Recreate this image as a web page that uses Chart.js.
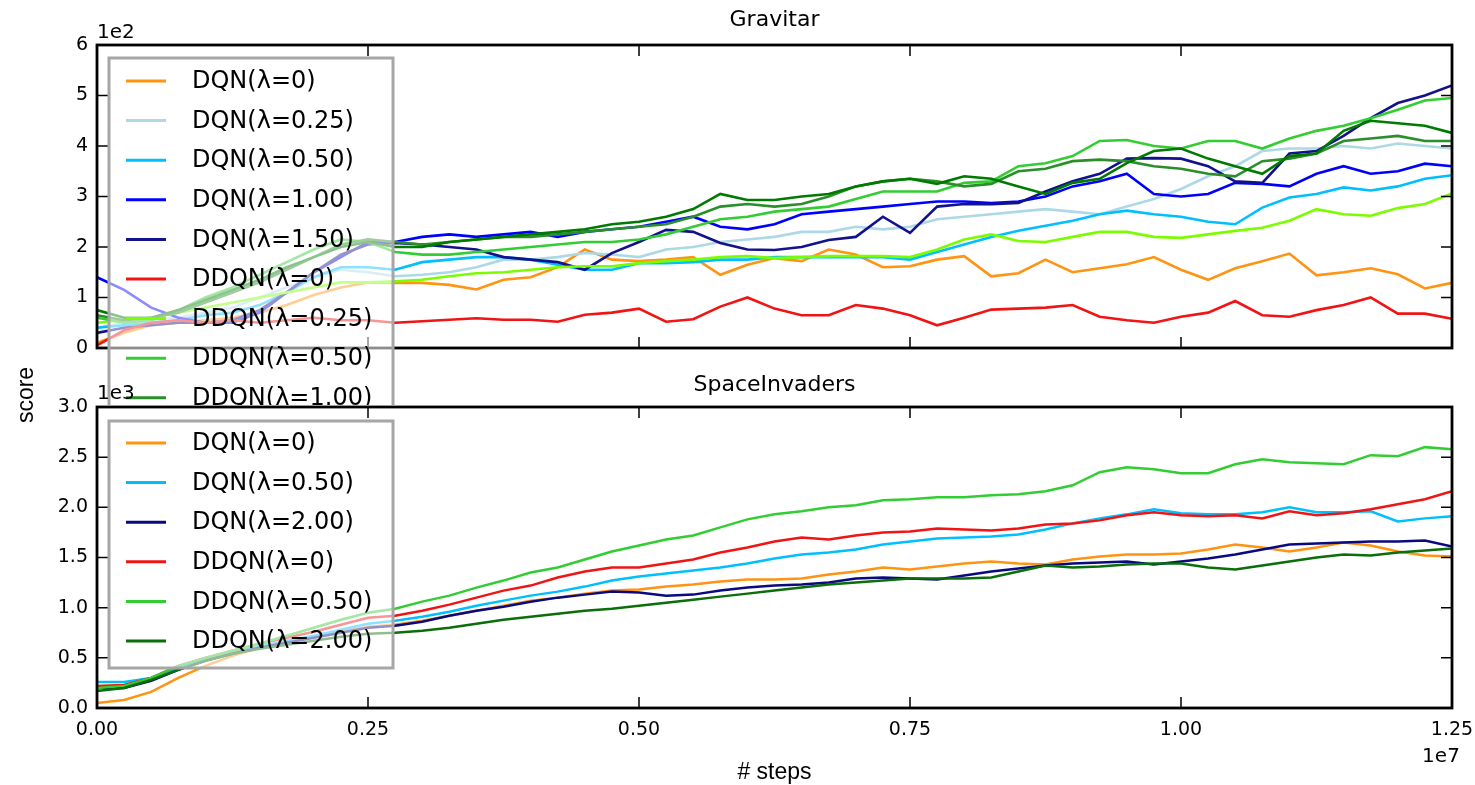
<!DOCTYPE html>
<html><head><meta charset="utf-8">
<script src="https://cdn.jsdelivr.net/npm/chart.js@4.4.0/dist/chart.umd.min.js"></script>
<style>
html,body{margin:0;padding:0;background:#fff;}
#wrap{position:relative;width:1475px;height:785px;overflow:hidden;}
canvas{position:absolute;left:0;top:0;}
</style></head><body>
<div id="wrap"><canvas id="cTop" width="1475" height="785"></canvas><canvas id="cBot" width="1475" height="785"></canvas></div>
<script>
// x positions in millions of steps
const stepsM = [0,0.25,0.5,0.75,1,1.25,1.5,1.75,2,2.25,2.5,2.75,3,3.25,3.5,3.75,4,4.25,4.5,4.75,5,5.25,5.5,5.75,6,6.25,6.5,6.75,7,7.25,7.5,7.75,8,8.25,8.5,8.75,9,9.25,9.5,9.75,10,10.25,10.5,10.75,11,11.25,11.5,11.75,12,12.25,12.5];
const xTickLabels = ['0.00','0.25','0.50','0.75','1.00','1.25'];

// Gravitar scores (units of 1e2)
const gravitarLabels = ['DQN(\u03bb=0)','DQN(\u03bb=0.25)','DQN(\u03bb=0.50)','DQN(\u03bb=1.00)','DQN(\u03bb=1.50)','DDQN(\u03bb=0)','DDQN(\u03bb=0.25)','DDQN(\u03bb=0.50)','DDQN(\u03bb=1.00)','DDQN(\u03bb=1.50)'];
const gravitarColors = ['#ff9312','#add8e6','#00bfff','#0000ff','#12128c','#f01414','#7cfc00','#32cd32','#2a8f2a','#007a00'];
const gDQN0 = [0.1,0.3,0.45,0.5,0.55,0.6,0.7,0.85,1.05,1.2,1.3, 1.29,1.29,1.25,1.16,1.35,1.4,1.6,1.95,1.75,1.72, 1.75,1.8,1.45,1.65,1.78,1.72,1.95,1.85,1.6,1.62, 1.75,1.82,1.42,1.48,1.75,1.5,1.58,1.66,1.8,1.55, 1.35,1.58,1.72,1.87,1.44,1.5,1.58,1.46,1.18,1.29];
const gDQN025 = [0.4,0.5,0.55,0.6,0.7,0.8,1.0,1.2,1.4,1.55,1.5, 1.42,1.45,1.5,1.6,1.75,1.75,1.8,1.88,1.85,1.8, 1.95,2.0,2.1,2.15,2.2,2.3,2.3,2.4,2.35,2.4, 2.55,2.6,2.65,2.7,2.75,2.7,2.65,2.8,2.95,3.15, 3.4,3.6,3.9,3.95,3.95,4.0,3.95,4.05,4.0,3.95];
const gDQN050 = [0.4,0.45,0.5,0.55,0.65,0.7,0.85,1.1,1.4,1.6,1.6, 1.55,1.7,1.75,1.8,1.8,1.75,1.65,1.55,1.55,1.68, 1.68,1.7,1.75,1.75,1.8,1.8,1.8,1.8,1.8,1.75, 1.9,2.05,2.2,2.32,2.42,2.52,2.65,2.72,2.65,2.6, 2.5,2.45,2.78,2.98,3.05,3.18,3.12,3.2,3.35,3.42];
const gDQN100 = [1.4,1.15,0.8,0.6,0.5,0.5,0.7,1.1,1.5,1.8,2.1, 2.1,2.2,2.25,2.2,2.25,2.3,2.2,2.3,2.35,2.4, 2.5,2.6,2.4,2.35,2.45,2.65,2.7,2.75,2.8,2.85, 2.9,2.9,2.87,2.9,3.0,3.2,3.3,3.45,3.05,3.0, 3.05,3.27,3.25,3.2,3.45,3.6,3.45,3.5,3.65,3.6];
const gDQN150 = [0.3,0.4,0.45,0.5,0.5,0.55,0.75,1.1,1.5,1.85,2.05, 2.08,2.05,2.0,1.95,1.8,1.75,1.7,1.55,1.88,2.1, 2.34,2.3,2.08,1.95,1.94,2.0,2.14,2.2,2.6,2.28, 2.8,2.85,2.85,2.87,3.1,3.3,3.45,3.75,3.76,3.75, 3.6,3.3,3.27,3.85,3.9,4.2,4.55,4.85,5.0,5.2];
const gDDQN0 = [0.05,0.35,0.5,0.55,0.5,0.55,0.5,0.55,0.6,0.55,0.55, 0.5,0.53,0.56,0.59,0.56,0.56,0.52,0.66,0.7,0.78, 0.52,0.57,0.82,1.0,0.78,0.65,0.65,0.85,0.78,0.65, 0.45,0.6,0.76,0.78,0.8,0.85,0.62,0.55,0.5,0.62, 0.7,0.93,0.65,0.62,0.75,0.85,1.0,0.68,0.68,0.58];
const gDDQN025 = [0.5,0.55,0.6,0.7,0.8,0.9,1.0,1.1,1.2,1.3,1.3, 1.32,1.35,1.42,1.48,1.5,1.55,1.6,1.62,1.62,1.68, 1.72,1.75,1.8,1.82,1.78,1.8,1.82,1.82,1.82,1.8, 1.95,2.15,2.25,2.12,2.1,2.2,2.3,2.3,2.2,2.18, 2.25,2.32,2.38,2.52,2.75,2.65,2.62,2.77,2.85,3.06];
const gDDQN050 = [0.6,0.5,0.55,0.75,1.0,1.2,1.45,1.7,1.95,2.15,2.1, 1.9,1.85,1.85,1.9,1.95,2.0,2.05,2.1,2.1,2.15, 2.25,2.4,2.55,2.6,2.7,2.75,2.8,2.95,3.1,3.1, 3.1,3.27,3.3,3.6,3.66,3.8,4.1,4.12,4.0,3.95, 4.1,4.1,3.95,4.15,4.3,4.4,4.55,4.72,4.9,4.95];
const gDDQN100 = [0.65,0.55,0.6,0.7,0.9,1.1,1.3,1.55,1.8,2.05,2.15, 2.1,2.05,2.1,2.15,2.2,2.2,2.25,2.3,2.35,2.4, 2.45,2.6,2.8,2.85,2.8,2.85,3.0,3.2,3.3,3.35, 3.3,3.2,3.25,3.5,3.55,3.7,3.73,3.7,3.6,3.55, 3.45,3.4,3.7,3.75,3.85,4.1,4.15,4.2,4.1,4.1];
const gDDQN150 = [0.75,0.6,0.6,0.75,0.95,1.15,1.35,1.6,1.8,2.0,2.1, 2.0,2.0,2.1,2.15,2.2,2.25,2.3,2.35,2.45,2.5, 2.6,2.75,3.05,2.93,2.93,3.0,3.05,3.2,3.3,3.35, 3.25,3.4,3.35,3.2,3.05,3.27,3.35,3.66,3.9,3.95, 3.75,3.6,3.45,3.8,3.85,4.3,4.5,4.45,4.4,4.26];
const gravitarValues = [gDQN0,gDQN025,gDQN050,gDQN100,gDQN150,gDDQN0,gDDQN025,gDDQN050,gDDQN100,gDDQN150];
const gravitarYTicks = ['0','1','2','3','4','5','6'];

// SpaceInvaders scores (units of 1e3)
const spaceLabels = ['DQN(\u03bb=0)','DQN(\u03bb=0.50)','DQN(\u03bb=2.00)','DDQN(\u03bb=0)','DDQN(\u03bb=0.50)','DDQN(\u03bb=2.00)'];
const spaceColors = ['#ff9312','#00bfff','#0a0a80','#f01414','#32cd32','#0a6e0a'];
const sDQN0 = [0.05,0.08,0.16,0.3,0.42,0.52,0.6,0.66,0.71,0.76,0.81, 0.83,0.87,0.92,0.97,1.02,1.07,1.1,1.14,1.17,1.18, 1.21,1.23,1.26,1.28,1.28,1.29,1.33,1.36,1.4,1.38, 1.41,1.44,1.46,1.44,1.43,1.48,1.51,1.53,1.53,1.54, 1.58,1.63,1.6,1.56,1.6,1.65,1.62,1.56,1.52,1.51];
const sDQN050 = [0.26,0.26,0.3,0.4,0.48,0.55,0.61,0.67,0.72,0.78,0.84, 0.87,0.91,0.96,1.02,1.07,1.12,1.16,1.21,1.27,1.31, 1.34,1.37,1.4,1.44,1.49,1.53,1.55,1.58,1.63,1.66, 1.69,1.7,1.71,1.73,1.78,1.84,1.89,1.93,1.98,1.94, 1.93,1.93,1.95,2.0,1.95,1.95,1.96,1.86,1.89,1.91];
const sDQN200 = [0.2,0.2,0.27,0.38,0.47,0.54,0.6,0.65,0.7,0.75,0.8, 0.82,0.86,0.92,0.97,1.01,1.06,1.1,1.13,1.16,1.15, 1.12,1.13,1.17,1.2,1.22,1.23,1.25,1.29,1.3,1.29, 1.28,1.32,1.36,1.39,1.42,1.44,1.45,1.46,1.43,1.46, 1.49,1.53,1.58,1.63,1.64,1.65,1.66,1.66,1.67,1.61];
const sDDQN0 = [0.22,0.23,0.3,0.42,0.5,0.57,0.64,0.7,0.76,0.83,0.9, 0.92,0.97,1.03,1.1,1.17,1.22,1.3,1.36,1.4,1.4, 1.44,1.48,1.55,1.6,1.66,1.7,1.68,1.72,1.75,1.76, 1.79,1.78,1.77,1.79,1.83,1.84,1.87,1.92,1.95,1.92, 1.91,1.92,1.89,1.96,1.92,1.94,1.98,2.03,2.08,2.16];
const sDDQN050 = [0.2,0.22,0.3,0.42,0.5,0.57,0.64,0.72,0.8,0.88,0.95, 0.99,1.06,1.12,1.2,1.27,1.35,1.4,1.48,1.56,1.62, 1.68,1.72,1.8,1.88,1.93,1.96,2.0,2.02,2.07,2.08, 2.1,2.1,2.12,2.13,2.16,2.22,2.35,2.4,2.38,2.34, 2.34,2.43,2.48,2.45,2.44,2.43,2.52,2.51,2.6,2.58];
const sDDQN200 = [0.17,0.2,0.28,0.38,0.47,0.54,0.59,0.63,0.67,0.71,0.74, 0.75,0.77,0.8,0.84,0.88,0.91,0.94,0.97,0.99,1.02, 1.05,1.08,1.11,1.14,1.17,1.2,1.23,1.25,1.27,1.29, 1.29,1.29,1.3,1.36,1.42,1.4,1.41,1.43,1.44,1.44, 1.4,1.38,1.42,1.46,1.5,1.53,1.52,1.55,1.57,1.59];
const spaceValues = [sDQN0,sDQN050,sDQN200,sDDQN0,sDDQN050,sDDQN200];
const spaceYTicks = ['0.0','0.5','1.0','1.5','2.0','2.5','3.0'];

const TICKFONT = {family:'DejaVu Sans', size:19};

function makeDatasets(labels, colors, values, scale, width){
  return labels.map((lab,i)=>({
    label: lab,
    data: stepsM.map((x,j)=>({x: x*1e6, y: values[i][j]*scale})),
    borderColor: colors[i], backgroundColor: colors[i],
    borderWidth: width, pointRadius: 0, fill: false, tension: 0,
    order: -i
  }));
}

function frameAndTicks(chart){
  const {ctx, chartArea:a, scales} = chart;
  ctx.save();
  ctx.strokeStyle = '#000'; ctx.lineWidth = 1.5;
  const L = 11;
  scales.x.ticks.forEach(t=>{
    const px = scales.x.getPixelForValue(t.value);
    if (px <= a.left+1 || px >= a.right-1) return;
    ctx.beginPath(); ctx.moveTo(px,a.top); ctx.lineTo(px,a.top+L);
    ctx.moveTo(px,a.bottom); ctx.lineTo(px,a.bottom-L); ctx.stroke();
  });
  scales.y.ticks.forEach(t=>{
    const py = scales.y.getPixelForValue(t.value);
    if (py <= a.top+1 || py >= a.bottom-1) return;
    ctx.beginPath(); ctx.moveTo(a.left,py); ctx.lineTo(a.left+L,py);
    ctx.moveTo(a.right,py); ctx.lineTo(a.right-L,py); ctx.stroke();
  });
  ctx.lineWidth = 2.8;
  ctx.strokeRect(a.left, a.top, a.right-a.left, a.bottom-a.top);
  ctx.restore();
}

function drawLegend(chart, bx, by, bw, bh, firstRow, rowH){
  const ctx = chart.ctx;
  ctx.save();
  ctx.fillStyle = 'rgba(255,255,255,0.55)';
  ctx.fillRect(bx, by, bw, bh);
  ctx.strokeStyle = '#a6a6a6'; ctx.lineWidth = 3;
  ctx.strokeRect(bx, by, bw, bh);
  ctx.font = '24px "DejaVu Sans"';
  ctx.textBaseline = 'middle'; ctx.textAlign = 'left';
  chart.data.datasets.forEach((ds,i)=>{
    const y = firstRow + i*rowH;
    ctx.strokeStyle = ds.borderColor; ctx.lineWidth = 3;
    ctx.beginPath(); ctx.moveTo(bx+17, y); ctx.lineTo(bx+57, y); ctx.stroke();
    ctx.fillStyle = '#000';
    ctx.fillText(ds.label, bx+83, y+1);
  });
  ctx.restore();
}

const topDecor = {
  id: 'topDecor',
  afterDraw(chart){
    frameAndTicks(chart);
    drawLegend(chart, 109, 58, 284, 410, 81, 39.6);
    const ctx = chart.ctx, a = chart.chartArea;
    ctx.save();
    ctx.fillStyle = '#000';
    ctx.font = '22px "DejaVu Sans"'; ctx.textAlign = 'center'; ctx.textBaseline = 'alphabetic';
    ctx.fillText('Gravitar', (a.left+a.right)/2, 26);
    ctx.font = '20px "DejaVu Sans"'; ctx.textAlign = 'left';
    ctx.fillText('1e2', 97, 38);
    ctx.translate(27, 395); ctx.rotate(-Math.PI/2);
    ctx.font = '23px "Liberation Sans"'; ctx.textAlign = 'center'; ctx.textBaseline = 'middle';
    ctx.fillText('score', 0, 0);
    ctx.restore();
  }
};

const botDecor = {
  id: 'botDecor',
  beforeDraw(chart){
    const ctx = chart.ctx, a = chart.chartArea;
    ctx.save(); ctx.fillStyle = '#fff';
    ctx.fillRect(a.left-2, a.top-2, a.right-a.left+4, a.bottom-a.top+4);
    ctx.restore();
  },
  afterDraw(chart){
    frameAndTicks(chart);
    drawLegend(chart, 109, 421, 284, 247, 443, 39.6);
    const ctx = chart.ctx, a = chart.chartArea;
    ctx.save();
    ctx.fillStyle = '#000';
    ctx.font = '22px "DejaVu Sans"'; ctx.textAlign = 'center'; ctx.textBaseline = 'alphabetic';
    ctx.fillText('SpaceInvaders', (a.left+a.right)/2, 391);
    ctx.font = '20px "DejaVu Sans"'; ctx.textAlign = 'left';
    ctx.fillText('1e3', 97, 399);
    ctx.textAlign = 'center';
    ctx.fillText('1e7', 1441, 762);
    ctx.font = '23px "Liberation Sans"';
    ctx.fillText('# steps', (a.left+a.right)/2, 779);
    ctx.restore();
  }
};

function yScale(max, step, labels){
  return {
    min: 0, max: max,
    ticks: {stepSize: step, font: TICKFONT, color: '#000', padding: 9,
            callback: (v)=> labels[Math.round(v/step)]},
    grid: {display: false, drawTicks: false},
    border: {display: false},
    afterFit: (s)=>{ s.width = 97; s.paddingTop = 0; s.paddingBottom = 0; }
  };
}

new Chart(document.getElementById('cTop'), {
  type: 'line',
  data: {datasets: makeDatasets(gravitarLabels, gravitarColors, gravitarValues, 100, 2.6)},
  options: {
    responsive: false, animation: false, devicePixelRatio: 1,
    layout: {padding: {left: 0, top: 45, right: 23, bottom: 437}},
    plugins: {legend: {display: false}, tooltip: {enabled: false}},
    scales: {
      x: {type: 'linear', min: 0, max: 12.5e6, display: false, ticks: {stepSize: 2.5e6}},
      y: yScale(600, 100, gravitarYTicks)
    }
  },
  plugins: [topDecor]
});

new Chart(document.getElementById('cBot'), {
  type: 'line',
  data: {datasets: makeDatasets(spaceLabels, spaceColors, spaceValues, 1000, 2.5)},
  options: {
    responsive: false, animation: false, devicePixelRatio: 1,
    layout: {padding: {left: 0, top: 407, right: 23, bottom: 0}},
    plugins: {legend: {display: false}, tooltip: {enabled: false}},
    scales: {
      x: {type: 'linear', min: 0, max: 12.5e6,
          ticks: {stepSize: 2.5e6, font: TICKFONT, color: '#000', padding: 11, maxRotation: 0, autoSkip: false,
                  callback: (v)=> xTickLabels[Math.round(v/2.5e6)]},
          grid: {display: false, drawTicks: false}, border: {display: false},
          afterFit: (s)=>{ s.height = 77; s.paddingLeft = 0; s.paddingRight = 0; }},
      y: yScale(3000, 500, spaceYTicks)
    }
  },
  plugins: [botDecor]
});
</script>
</body></html>
